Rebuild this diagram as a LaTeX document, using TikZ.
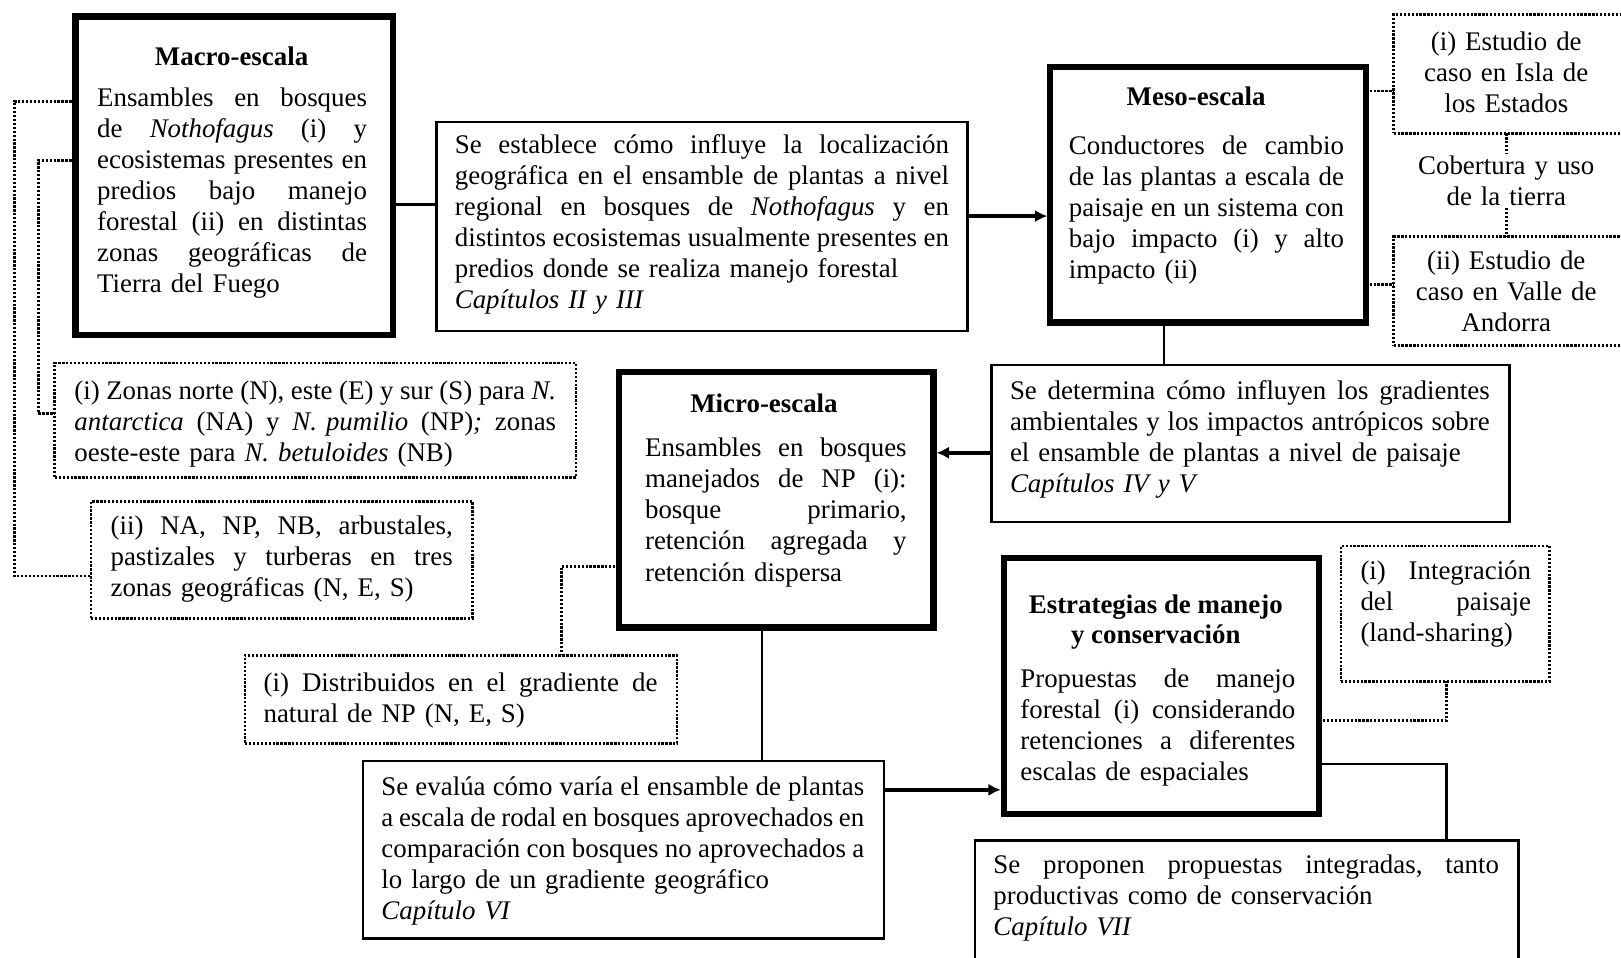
\documentclass[tikz,border=0pt]{standalone}
\usepackage{fontspec}
\setmainfont{Liberation Serif}
\usetikzlibrary{arrows.meta}
\def\jend{}
\def\jw#1 #2\jend{#1\if\relax\detokenize{#2}\relax\else\hskip 0.25em plus 1fil minus 0.2em\relax\jw#2\jend\fi}
\newcommand\J[1]{\noindent\hbox to\linewidth{\jw#1 \jend}\par}
\newcommand\Lf[1]{\noindent\hbox to\linewidth{#1\hfill}\par}
\newcommand\Cf[1]{\noindent\hbox to\linewidth{\hfill#1\hfill}\par}
\newcommand\bodysetup{\fontsize{26}{30}\selectfont\frenchspacing}
\tikzset{
  thickbox/.style={draw, line width=6pt, rectangle, anchor=north west, inner sep=0pt, outer sep=0pt},
  thinbox/.style={draw, line width=2.5pt, rectangle, anchor=north west, inner sep=0pt, outer sep=0pt},
  dotbox/.style={draw, line width=2.5pt, dash pattern=on 2.2pt off 1.6pt, rectangle, anchor=north west, inner sep=0pt, outer sep=0pt},
  txt/.style={anchor=base west, inner sep=0pt, outer sep=0pt, font=\bodysetup, align=left},
  ctxt/.style={anchor=base, inner xsep=0pt, inner ysep=2pt, outer sep=0pt, font=\bodysetup, align=left},
  ttl/.style={anchor=base, inner sep=0pt, outer sep=0pt, font=\fontsize{26}{30}\selectfont\bfseries},
  conn/.style={line width=2.5pt},
  arr/.style={line width=3.5pt, -{Latex[length=12pt,width=12pt]}, shorten >=3pt},
  dotconn/.style={line width=2.5pt, dash pattern=on 2.2pt off 1.6pt},
}
\begin{document}
\begin{tikzpicture}[x=1pt,y=-1pt]
\clip (0,0) rectangle (1568,926);
\fill[white] (0,0) rectangle (1568,926);
% boxes
\node[thickbox, minimum width=307pt, minimum height=308pt] (macro) at (73,16) {};
\node[thinbox, minimum width=514pt, minimum height=202pt] (est) at (422,118) {};
\node[thickbox, minimum width=305pt, minimum height=247pt] (meso) at (1016,65) {};
\node[dotbox, minimum width=300pt, minimum height=115pt] (isla) at (1348,14) {};
\node[dotbox, minimum width=300pt, minimum height=105pt] (andorra) at (1348,229) {};
\node[thickbox, minimum width=304pt, minimum height=247pt] (micro) at (599,360) {};
\node[thinbox, minimum width=501pt, minimum height=152pt] (sedet) at (959,353) {};
\node[dotbox, minimum width=504pt, minimum height=111pt] (zonas) at (53,351) {};
\node[dotbox, minimum width=369pt, minimum height=113pt] (nab) at (88,485) {};
\node[dotbox, minimum width=418pt, minimum height=85pt] (distrib) at (237,634) {};
\node[thinbox, minimum width=504pt, minimum height=172pt] (seev) at (351,736) {};
\node[thickbox, minimum width=305pt, minimum height=247pt] (estr) at (971,540) {};
\node[dotbox, minimum width=202pt, minimum height=131pt] (integ) at (1297,528) {};
\node[thinbox, minimum width=526pt, minimum height=150pt] (sprop) at (943,813) {};
% texts
\node[ttl] (macrott) at (224,63) {Macro-escala};
\node[txt, text width=261pt] (macrot) at (94,103) {%
\J{Ensambles en bosques}%
\J{de \textit{Nothofagus} (i) y}%
\J{ecosistemas presentes en}%
\J{predios bajo manejo}%
\J{forestal (ii) en distintas}%
\J{zonas geográficas de}%
\Lf{Tierra del Fuego}};
\node[txt, text width=478pt] (estt) at (440,148) {%
\J{Se establece cómo influye la localización}%
\J{geográfica en el ensamble de plantas a nivel}%
\J{regional en bosques de \textit{Nothofagus} y en}%
\J{distintos ecosistemas usualmente presentes en}%
\Lf{predios donde se realiza manejo forestal}%
\Lf{\textit{Capítulos II y III}}};
\node[ttl] (mesott) at (1157,102) {Meso-escala};
\node[txt, text width=266pt] (mesot) at (1034,149) {%
\J{Conductores de cambio}%
\J{de las plantas a escala de}%
\J{paisaje en un sistema con}%
\J{bajo impacto (i) y alto}%
\Lf{impacto (ii)}};
\node[ctxt, text width=210pt] (islat) at (1457,49) {%
\Cf{(i) Estudio de}%
\Cf{caso en Isla de}%
\Cf{los Estados}};
\node[ctxt, text width=210pt] (cob) at (1457,169) {%
\Cf{Cobertura y uso}%
\Cf{de la tierra}};
\node[ctxt, text width=210pt] (andorrat) at (1457,261) {%
\Cf{(ii) Estudio de}%
\Cf{caso en Valle de}%
\Cf{Andorra}};
\node[txt, text width=464pt] (sedett) at (977,386) {%
\J{Se determina cómo influyen los gradientes}%
\J{ambientales y los impactos antrópicos sobre}%
\Lf{el ensamble de plantas a nivel de paisaje}%
\Lf{\textit{Capítulos IV y V}}};
\node[txt, text width=466pt] (zonast) at (72,386) {%
\J{(i) Zonas norte (N), este (E) y sur (S) para \textit{N.}}%
\J{\textit{antarctica} (NA) y \textit{N.}~\textit{pumilio} (NP)\textit{;} zonas}%
\Lf{oeste-este para \textit{N. betuloides} (NB)}};
\node[txt, text width=331pt] (nabt) at (107,517) {%
\J{(ii) NA, NP, NB, arbustales,}%
\J{pastizales y turberas en tres}%
\Lf{zonas geográficas (N, E, S)}};
\node[ttl] (micrott) at (739,399) {Micro-escala};
\node[txt, text width=253pt] (microt) at (624,442) {%
\J{Ensambles en bosques}%
\J{manejados de NP (i):}%
\J{bosque primario,}%
\J{retención agregada y}%
\Lf{retención dispersa}};
\node[txt, text width=381pt] (distribt) at (255,669) {%
\J{(i) Distribuidos en el gradiente de}%
\Lf{natural de NP (N, E, S)}};
\node[txt, text width=467pt] (seevt) at (369,769) {%
\J{Se evalúa cómo varía el ensamble de plantas}%
\J{a escala de rodal en bosques aprovechados en}%
\J{comparación con bosques no aprovechados a}%
\Lf{lo largo de un gradiente geográfico}%
\Lf{\textit{Capítulo VI}}};
\node[ttl] (estrtt) at (1118,593) {Estrategias de manejo};
\node[ttl] (estrtt2) at (1118,622) {y conservación};
\node[txt, text width=266pt] (estrt) at (987,665) {%
\J{Propuestas de manejo}%
\J{forestal (i) considerando}%
\J{retenciones a diferentes}%
\Lf{escalas de espaciales}};
\node[txt, text width=165pt] (integt) at (1316,561) {%
\J{(i) Integración}%
\J{del paisaje}%
\Lf{(land-sharing)}};
\node[txt, text width=489pt] (spropt) at (961,845) {%
\J{Se proponen propuestas integradas, tanto}%
\Lf{productivas como de conservación}%
\Lf{\textit{Capítulo VII}}};
% connectors
\draw[conn] (macro.east |- 0,198) -- (est.west |- 0,198);
\draw[arr] (est.east |- 0,209) -- (meso.west |- 0,209);
\draw[conn] (meso.south -| 1126,0) -- (sedet.north -| 1126,0);
\draw[arr] (sedet.west |- 0,438) -- (micro.east |- 0,438);
\draw[conn] (micro.south -| 737,0) -- (seev.north -| 737,0);
\draw[arr] (seev.east |- 0,764) -- (estr.west |- 0,764);
\draw[conn] (estr.east |- 0,739) -| (sprop.north -| 1399,0);
% dotted connectors
\draw[dotconn] (macro.west |- 0,98) -| (14,557) -- (nab.west |- 0,557);
\draw[dotconn] (macro.west |- 0,155) -| (37,400) -- (zonas.west |- 0,400);
\draw[dotconn] (meso.east |- 0,88) -- (isla.west |- 0,88);
\draw[dotconn] (meso.east |- 0,275) -- (andorra.west |- 0,275);
\draw[dotconn] (isla.south -| cob.north) -- (cob.north);
\draw[dotconn] (cob.south) -- (andorra.north -| cob.south);
\draw[dotconn] (micro.west |- 0,548) -| (distrib.north -| 543,0);
\draw[dotconn] (estr.east |- 0,697) -| (integ.south -| 1399,0);
\end{tikzpicture}
\end{document}
